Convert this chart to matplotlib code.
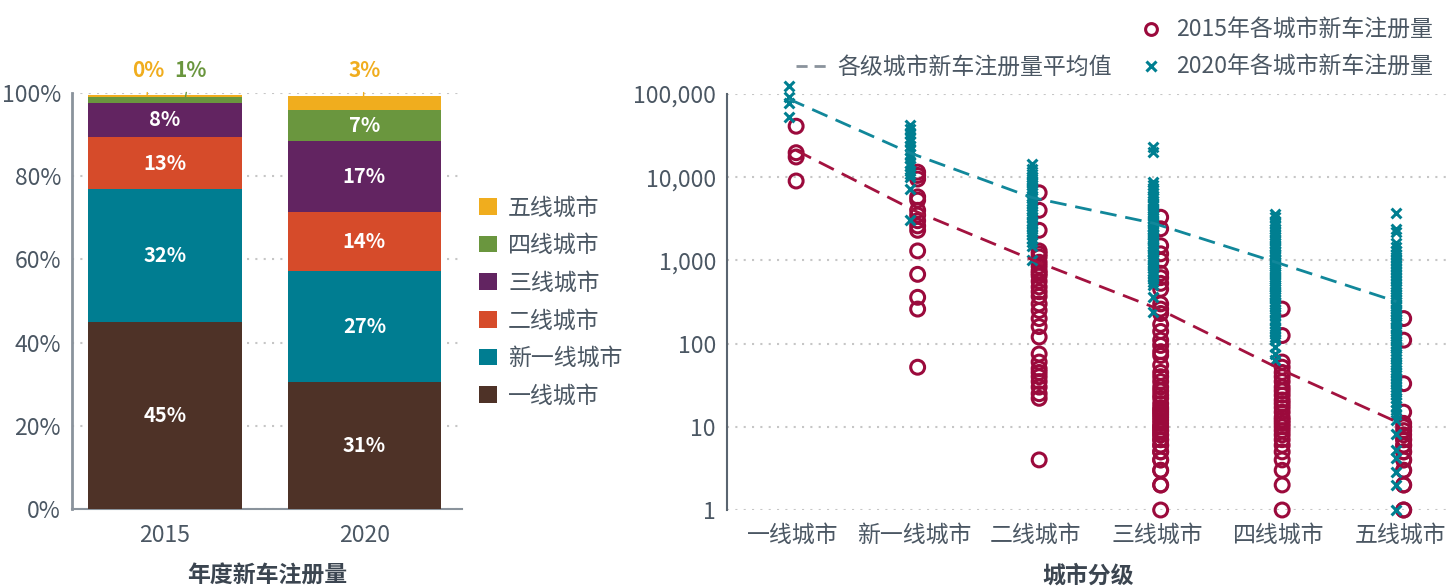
import matplotlib
matplotlib.use('Agg')
import matplotlib.pyplot as plt
from matplotlib.lines import Line2D
from matplotlib.patches import Patch
import numpy as np

plt.rcParams['font.family'] = ['Noto Sans CJK SC', 'DejaVu Sans']

# ---------------- data ----------------
tiers = ['一线城市', '新一线城市', '二线城市', '三线城市', '四线城市', '五线城市']
years = ['2015', '2020']
share_2015 = [44.9, 32.0, 12.5, 8.3, 1.4, 0.4]
share_2020 = [30.6, 26.6, 14.3, 17.0, 7.4, 3.4]
label_2015 = ['45%', '32%', '13%', '8%', '1%', '0%']
label_2020 = ['31%', '27%', '14%', '17%', '7%', '3%']

reg_2015_t1 = [41000, 19700, 17500, 9000]
reg_2015_new1 = [11500, 10500, 9500, 5800, 5300, 4000, 3500, 3000, 2600, 2300, 1300, 680, 360, 260, 52]
reg_2015_t2 = [6500, 4000, 2300, 1300, 1200, 1100, 950, 850, 750, 700, 650, 560, 480, 420, 370, 300,
               250, 200, 160, 120, 75, 60, 50, 45, 40, 35, 30, 25, 22, 4]
reg_2015_t3 = [3300, 2400, 1500, 1200, 1000, 700, 620, 530, 450, 300, 260, 230, 170, 140, 110, 95, 80,
               72, 55, 45, 40, 35, 30, 27, 24, 22, 19, 17, 16, 15, 14, 13, 12, 11, 10, 10, 9, 9, 8, 8,
               7, 7, 6, 6, 5, 5, 4, 4, 3, 3, 2, 2, 1]
reg_2015_t4 = [260, 125, 60, 52, 45, 40, 35, 30, 27, 24, 21, 19, 17, 15, 13, 12, 11, 10, 9, 8, 7,
               6, 5, 4, 3, 2, 1]
reg_2015_t5 = [200, 110, 33, 15, 11, 10, 9, 8, 7, 7, 6, 6, 5, 5, 4, 4, 3, 3, 2, 2, 1, 1]

reg_2020_t1 = [125000, 91000, 77000, 53000]
reg_2020_new1 = [42000, 38000, 33000, 30000, 27000, 24000, 21000, 19000, 17000, 15000, 13500, 12000,
                 11000, 10000, 7300, 3100]
reg_2020_t2 = [14500, 12500, 11000, 10000, 9500, 9000, 8500, 8000, 7500, 7000, 6500, 6000, 5600, 5200,
               4800, 4500, 4200, 3900, 3600, 3300, 3000, 2800, 2600, 2400, 2200, 2000, 1800, 1650,
               1500, 1000]
reg_2020_t3 = [23000, 20000, 8800, 8000, 7500, 7000, 6500, 6000, 5600, 5200, 4900, 4600, 4300, 4000,
               3800, 3600, 3400, 3200, 3000, 2800, 2600, 2500, 2400, 2300, 2200, 2100, 2000, 1900,
               1800, 1700, 1600, 1500, 1450, 1400, 1300, 1250, 1200, 1100, 1050, 1000, 950, 900, 850,
               800, 750, 700, 650, 600, 550, 500, 360, 240]
reg_2020_t4 = [3600, 3300, 3000, 2800, 2600, 2400, 2200, 2000, 1900, 1800, 1700, 1600, 1500, 1400,
               1300, 1250, 1200, 1150, 1100, 1050, 1000, 950, 900, 850, 800, 760, 720, 680, 640, 600,
               570, 540, 510, 480, 450, 420, 400, 380, 360, 340, 320, 300, 280, 260, 240, 220, 200,
               185, 170, 155, 140, 130, 120, 110, 92, 76, 63]
reg_2020_t5 = [3700, 2400, 2200, 1600, 1450, 1300, 1200, 1100, 1000, 920, 850, 780, 720, 660, 610,
               560, 520, 480, 450, 420, 390, 360, 340, 320, 300, 280, 260, 245, 230, 215, 200, 190,
               180, 170, 160, 150, 140, 130, 122, 115, 108, 100, 94, 88, 82, 76, 70, 65, 60, 56, 52,
               48, 45, 42, 39, 36, 33, 30, 28, 26, 24, 22, 20, 18, 16, 14, 12, 8.3, 5.2, 4.2, 2.9, 2, 1]

mean_2015 = [21000, 3800, 940, 254, 48, 10.5]
mean_2020 = [87000, 19500, 5700, 2800, 960, 320]

reg_2015 = [reg_2015_t1, reg_2015_new1, reg_2015_t2, reg_2015_t3, reg_2015_t4, reg_2015_t5]
reg_2020 = [reg_2020_t1, reg_2020_new1, reg_2020_t2, reg_2020_t3, reg_2020_t4, reg_2020_t5]

# ---------------- style ----------------
bar_colors = ['#4e3227', '#007d91', '#d64b2a', '#622461', '#6a963e', '#f0ad1e']
red = '#9b0a3c'
teal = '#007f91'
tick_col = '#4b5763'
lab_col = '#3b4550'
grid_kw = dict(linestyle=(0, (1, 3)), color='#c6c6c6', linewidth=1.5)
FS = 16.5

fig = plt.figure(figsize=(14.49, 5.87), dpi=100)
W, H = 1449, 587
ax1 = fig.add_axes([72 / W, 1 - 509 / H, 390 / W, 416 / H])
ax2 = fig.add_axes([727 / W, 1 - 510 / H, 722 / W, 416 / H])

# ---------------- left stacked bars ----------------
x = np.arange(len(years))
bottom = np.zeros(len(years))
handles = []
for i, tier in enumerate(tiers):
    vals = np.array([share_2015[i], share_2020[i]])
    ax1.bar(x, vals, 0.77, bottom=bottom, color=bar_colors[i], zorder=3)
    labs = [label_2015[i], label_2020[i]]
    for j in range(len(years)):
        if vals[j] >= 5:
            ax1.text(x[j], bottom[j] + vals[j] / 2, labs[j], ha='center', va='center',
                     color='white', fontsize=14.5, fontweight='bold', zorder=4)
    handles.append(Patch(facecolor=bar_colors[i], label=tier))
    bottom = bottom + vals

# small segment call-outs
tops15 = np.cumsum(share_2015)
tops20 = np.cumsum(share_2020)
call_kw = dict(ha='center', va='center', fontsize=15, fontweight='bold', annotation_clip=False)
ax1.annotate(label_2015[5], xy=(x[0] - 0.09, tops15[5] - 0.2), xytext=(x[0] - 0.085, 105.3),
             color=bar_colors[5],
             arrowprops=dict(arrowstyle='-', color=bar_colors[5], lw=1.0, shrinkA=6, shrinkB=0),
             **call_kw)
ax1.annotate(label_2015[4], xy=(x[0] + 0.10, tops15[4] - 0.7), xytext=(x[0] + 0.126, 105.3),
             color=bar_colors[4],
             arrowprops=dict(arrowstyle='-', color=bar_colors[4], lw=1.0, shrinkA=6, shrinkB=0),
             **call_kw)
ax1.annotate(label_2020[5], xy=(x[1] - 0.005, tops20[5] - 1.7), xytext=(x[1], 105.3),
             color=bar_colors[5],
             arrowprops=dict(arrowstyle='-', color=bar_colors[5], lw=1.0, shrinkA=6, shrinkB=0),
             **call_kw)

ax1.set_xlim(-0.467, 1.49)
ax1.set_ylim(0, 100)
ax1.set_yticks([0, 20, 40, 60, 80, 100])
ax1.set_yticklabels(['0%', '20%', '40%', '60%', '80%', '100%'])
ax1.set_xticks(x)
ax1.set_xticklabels(years)
ax1.yaxis.grid(True, **grid_kw)
ax1.set_axisbelow(True)
for s in ['top', 'right']:
    ax1.spines[s].set_visible(False)
ax1.spines['left'].set_color('#8a939c')
ax1.spines['left'].set_linewidth(2)
ax1.spines['bottom'].set_color('#8a939c')
ax1.spines['bottom'].set_linewidth(1.5)
ax1.tick_params(axis='both', length=0, labelsize=FS, labelcolor=tick_col)
ax1.tick_params(axis='y', pad=8)
ax1.tick_params(axis='x', pad=11)

ax1.legend(handles=handles[::-1], loc='center left', bbox_to_anchor=(468 / W, 1 - 302 / H),
           bbox_transform=fig.transFigure, frameon=False, handlelength=0.75, handleheight=0.75,
           handletextpad=0.5, labelspacing=0.64, fontsize=FS, labelcolor=tick_col, borderpad=0)

fig.text(267 / W, 1 - 576 / H, '年度新车注册量', ha='center', va='center', fontsize=FS,
         fontweight='bold', color=lab_col)

# ---------------- right scatter ----------------
off = 0.03
for i in range(len(tiers)):
    ax2.scatter(np.full(len(reg_2015[i]), i + off), reg_2015[i], marker='o', facecolors='none',
                edgecolors=red, s=100, linewidths=2.2, zorder=3, clip_on=False)
for i in range(len(tiers)):
    ax2.scatter(np.full(len(reg_2020[i]), i - off), reg_2020[i], marker='x', color=teal,
                s=50, linewidths=2.2, zorder=4, clip_on=False)
xi = np.arange(len(tiers))
ax2.plot(xi + off, mean_2015, color='#a3123f', lw=2, dashes=(6, 3.2), zorder=5)
ax2.plot(xi - off, mean_2020, color='#11879a', lw=2, dashes=(6, 3.2), zorder=5)

ax2.set_yscale('log')
ax2.set_ylim(1, 1e5)
ax2.set_xlim(-0.539, 5.403)
ax2.set_yticks([1, 10, 100, 1000, 10000, 100000])
ax2.set_yticklabels(['1', '10', '100', '1,000', '10,000', '100,000'])
ax2.yaxis.set_minor_locator(matplotlib.ticker.NullLocator())
ax2.set_xticks(xi)
ax2.set_xticklabels(tiers)
ax2.yaxis.grid(True, **grid_kw)
ax2.set_axisbelow(True)
for s in ['top', 'right', 'bottom']:
    ax2.spines[s].set_visible(False)
ax2.spines['left'].set_color('#5a6570')
ax2.spines['left'].set_linewidth(1.5)
ax2.tick_params(axis='both', length=0, labelsize=FS, labelcolor=tick_col)
ax2.tick_params(axis='y', pad=8)
ax2.tick_params(axis='x', pad=10)

fig.text(1088 / W, 1 - 576 / H, '城市分级', ha='center', va='center', fontsize=FS,
         fontweight='bold', color=lab_col)

blank = Line2D([], [], linestyle='none')
lg_handles = [blank,
              Line2D([], [], color='#8a939c', lw=2, dashes=(4, 2.5)),
              Line2D([], [], marker='o', linestyle='none', markerfacecolor='none',
                     markeredgecolor=red, markersize=8.5, markeredgewidth=2.2),
              Line2D([], [], marker='x', linestyle='none', color=teal, markersize=6.5,
                     markeredgewidth=2.2)]
lg_labels = ['', '各级城市新车注册量平均值', '2015年各城市新车注册量', '2020年各城市新车注册量']
fig.legend(lg_handles, lg_labels, ncol=2, loc='upper right', bbox_to_anchor=(1.0, 0.995),
           frameon=False, fontsize=FS, labelcolor=tick_col, handlelength=1.4,
           handletextpad=0.4, columnspacing=1.0, labelspacing=0.62, borderpad=0.2)

fig.savefig('out.png', dpi=100)
